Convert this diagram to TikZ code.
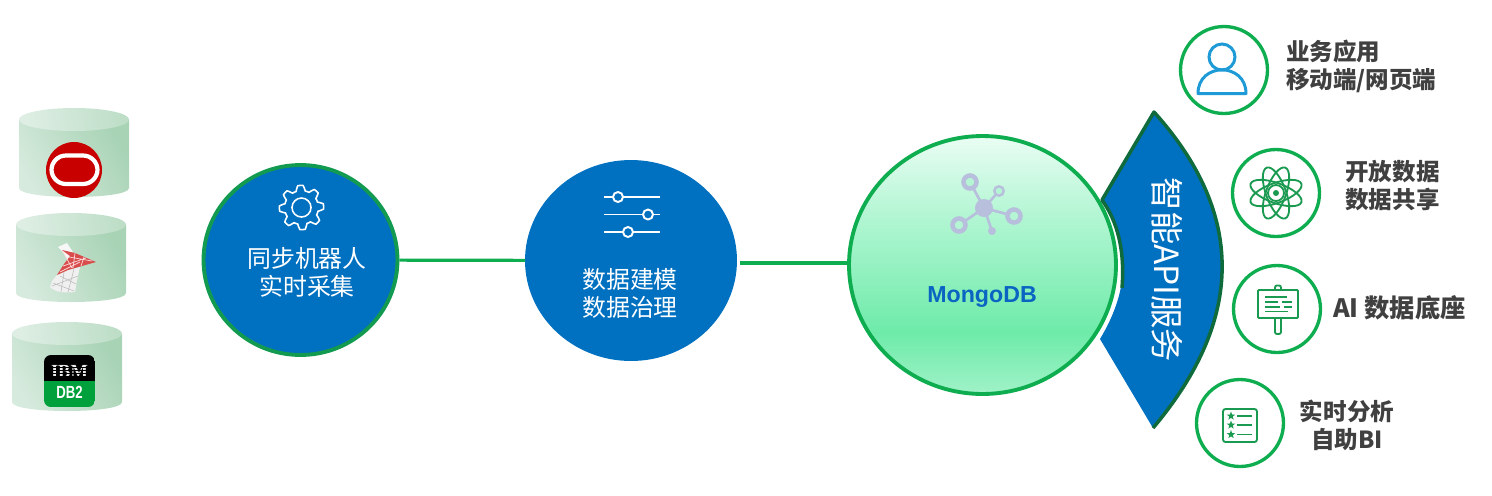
\documentclass[tikz,border=0pt]{standalone}
\usepackage{fontspec}
\setmainfont{Liberation Sans}
\newfontfamily\cjk{Noto Sans CJK SC}
\usetikzlibrary{shapes.geometric}
\definecolor{cblue}{RGB}{0,112,192}
\definecolor{cgreen}{RGB}{14,173,80}
\definecolor{cring}{RGB}{18,154,80}
\definecolor{cdark}{RGB}{15,107,60}
\definecolor{cicon}{RGB}{26,154,80}
\definecolor{csky}{RGB}{30,155,215}
\definecolor{cgrey}{RGB}{64,64,64}
\definecolor{cnet}{RGB}{184,191,221}
\definecolor{cmongo}{RGB}{10,101,194}
\definecolor{cdbgreen}{RGB}{0,160,60}
\definecolor{cylA}{RGB}{214,234,221}
\definecolor{cylB}{RGB}{168,211,181}
\definecolor{cred}{RGB}{200,0,0}
\definecolor{mongoA}{RGB}{234,253,244}
\definecolor{mongoB}{RGB}{110,235,169}
\definecolor{mongoC}{RGB}{160,242,200}
\definecolor{mongoD}{RGB}{180,246,212}
\pgfdeclareverticalshading{mongoshade}{100bp}{
    color(0bp)=(mongoC); color(25bp)=(mongoC); color(37bp)=(mongoB);
    color(60bp)=(mongoD); color(75bp)=(mongoA); color(100bp)=(mongoA)}
\tikzset{
    stage/.style={ellipse, draw=cring, line width=2.2pt, fill=cblue, inner sep=0pt},
    stagetext/.style={white, align=center, font=\fontsize{13.6}{15.6}\selectfont\cjk},
    sidering/.style={circle, draw=cgreen, line width=1.9pt, fill=white, minimum size=1.74cm, inner sep=0pt},
    sidetext/.style={cgrey, align=center, font=\fontsize{13.4}{15.6}\selectfont\cjk\bfseries},
    link/.style={cgreen, line width=1.8pt},
    icon/.style={cicon, line width=1.05pt},
}

\begin{document}
\begin{tikzpicture}[x=0.02cm, y=-0.02cm]
    \useasboundingbox (0,0) rectangle (1492,495);

    % Database cylinders
    \foreach \cx/\cy in {74/108, 71/213, 67/322} {
        \shade[left color=cylA, right color=cylB, shading angle=120]
            (\cx-55,\cy+12) -- (\cx-55,\cy+80)
            .. controls (\cx-55,\cy+92) and (\cx+55,\cy+92) .. (\cx+55,\cy+80)
            -- (\cx+55,\cy+12) -- cycle;
        \shade[left color=cylA!80!white, right color=cylB!75!white, shading angle=100]
            (\cx,\cy+11.5) ellipse [x radius=55, y radius=11.5];
    }

    % Oracle logo
    \fill[cred] (74,170) circle (28);
    \draw[white, line width=2.4pt, rounded corners=0.29cm] (51.5,155.5) rectangle (97.5,184);

    % SQL Server logo
    \fill[white!94!gray] (58,247) -- (67,243) -- (73,252) -- (68,260) -- (62,251) -- cycle;
    \fill[white!88!gray] (57,275) -- (68,270) -- (80,267) -- (77,280) -- (75,292)
        .. controls (66,293) and (56,293) .. (50,287) -- (52,281) -- cycle;
    \draw[gray!55, line width=0.3pt] (53,283) -- (74,291) (64,272) -- (61,292)
        (74,269) -- (68,292) (52,286) -- (78,276) (60,276) -- (76,284);
    \fill[cred!70!white] (62,250) -- (75,253) -- (96,262) -- (82,266) -- (68,270)
        -- (57,275) -- (64,264) -- (70,256) -- cycle;
    \draw[white!85!red, line width=0.4pt] (63,252) -- (72,268) (69,257) -- (92,261)
        (75,253) -- (73,268) (84,257) -- (81,266) (63,266) -- (86,258) (60,272) -- (80,262);

    % DB2 logo
    \begin{scope}
        \clip[rounded corners=0.14cm] (44,355) rectangle (95,407);
        \fill[black] (44,355) rectangle (95,381);
        \fill[cdbgreen] (44,381) rectangle (95,407);
    \end{scope}
    \node[white!85!gray, font=\fontsize{10.5}{10.5}\selectfont\bfseries] (ibm) at (69.5,371) {\fontspec{Liberation Serif}IBM};
    \foreach \sy in {367,370,373,376} {
        \draw[black, line width=0.25pt] (50,\sy) -- (90,\sy);
    }
    \node[white, font=\fontsize{10}{10}\selectfont\bfseries] (dbtwo) at (69.5,392) {\scalebox{0.75}[1]{DB2}};

    % Stages
    \node[stage, minimum width=3.88cm, minimum height=3.80cm] (robot) at (300.5,260) {};
    \node[stage, draw=none, outer sep=0pt, minimum width=4.24cm, minimum height=4.02cm] (model) at (631,260.5) {};
    \node[ellipse, draw=cgreen, line width=2.2pt, shading=mongoshade, inner sep=0pt,
        minimum width=5.34cm, minimum height=5.16cm] (mongo) at (982.5,265) {};

    % Connectors
    \draw[link] (robot) -- (model);
    \coordinate (modelout) at (740,263);
    \draw[link] (modelout) -- (modelout -| mongo.west);

    % Gear icon
    \draw[white, line width=0.9pt, domain=0:360, samples=193, smooth]
        plot ({301.5+(19.5+2.6*max(-1,min(1,1.7*cos(8*\x+22.5))))*cos(\x)},
              {207.5+(19.5+2.6*max(-1,min(1,1.7*cos(8*\x+22.5))))*sin(\x)}) -- cycle;
    \draw[white, line width=0.9pt] (301.5,207.5) circle (9.5);
    \node[stagetext] (robottext) at (307,272.5) {同步机器人\\实时采集};

    % Slider icon
    \foreach \sy/\kx in {197/618, 214.5/648, 232/628} {
        \draw[white, line width=1.1pt] (604,\sy) -- (660,\sy);
        \draw[white, line width=1.1pt, fill=cblue] (\kx,\sy) circle (5);
    }
    \node[stagetext] (modeltext) at (630,293.5) {数据建模\\数据治理};

    % Network icon
    \foreach \nx/\ny in {970/182, 999/191, 1014/216, 959/225, 992/231} {
        \draw[cnet, line width=1.5pt] (984,208) -- (\nx,\ny);
    }
    \fill[cnet] (984,208) circle (9);
    \foreach \nx/\ny/\nr/\nw in {970/182/6.5/2.6, 999/191/4.7/1.4, 1014/216/6.5/2.6, 959/225/6.5/2.6} {
        \draw[cnet, line width=\nw pt, fill=mongoD] (\nx,\ny) circle (\nr);
    }
    \fill[cnet] (992,231) circle (4);
    \node[font=\fontsize{13.2}{15}\selectfont\bfseries, text=cmongo] (mongotext) at (982,296.5) {MongoDB};

    % API band
    \fill[cblue] (1154,112) .. controls (1245,213) and (1245,319) .. (1153,428)
        -- (1100,339) .. controls (1130,289) and (1131,243) .. (1102,200) -- cycle;
    \draw[cdark, line width=2pt, line join=round] (1153,428) .. controls (1245,319) and (1245,213) .. (1154,112)
        -- (1102,200) .. controls (1118,222) and (1125,252) .. (1122,288);
    \node[white, rotate=-90, font=\fontsize{19}{19}\selectfont\cjk] (apitext) at (1167,270) {智能API服务};

    % User ring
    \node[sidering] (userring) at (1224,70) {};
    \draw[csky, line width=1.7pt] (1222,57) circle (13);
    \draw[csky, line width=1.7pt, line join=round] (1198,93.5) -- (1246,93.5)
        .. controls (1246,62) and (1198,62) .. (1198,93.5) -- cycle;
    \node[sidetext, align=left, anchor=west] (usertext) at (1280,66.5) {业务应用\\移动端/网页端};

    % Atom ring
    \node[sidering] (atomring) at (1276,193) {};
    \foreach \ang in {20,70,110,160} {
        \draw[icon, rotate around={\ang:(1276,193)}] (1276,193) ellipse [x radius=27, y radius=10];
    }
    \draw[icon, fill=white] (1276,193) circle (8);
    \fill[cicon] (1276,193) circle (3);
    \node[sidetext] (atomtext) at (1392.5,185.5) {开放数据\\数据共享};

    % Board ring
    \node[sidering] (boardring) at (1277,309) {};
    \draw[icon, rounded corners=0.02cm] (1258,290) rectangle (1298,318);
    \draw[icon, rounded corners=0.04cm] (1275,318) -- (1275,334) -- (1281,334) -- (1281,318);
    \draw[icon, rounded corners=0.04cm] (1275,290) -- (1275,285.5) -- (1281,285.5) -- (1281,290);
    \draw[icon] (1265,297) -- (1287,297) (1265,302) -- (1278,302) (1282,302) -- (1292,302)
        (1265,307) -- (1280,307) (1284,307) -- (1292,307) (1265,311.5) -- (1288,311.5);
    \node[sidetext, font=\fontsize{14.4}{15.6}\selectfont\cjk\bfseries] (boardtext) at (1399.5,307.5) {AI 数据底座};

    % List ring
    \node[sidering] (listring) at (1240,423) {};
    \draw[icon, rounded corners=0.05cm] (1223,409) rectangle (1257,442);
    \foreach \i/\sy in {1/416, 2/425, 3/434.5} {
        \node[star, star points=5, star point ratio=2.4, fill=cicon, inner sep=0pt, minimum size=0.18cm] (star\i) at (1231,\sy) {};
        \draw[icon] (1237,\sy) -- (1252,\sy);
    }
    \node[sidetext] (listtext) at (1347,425.5) {实时分析\\自助BI};
\end{tikzpicture}
\end{document}
